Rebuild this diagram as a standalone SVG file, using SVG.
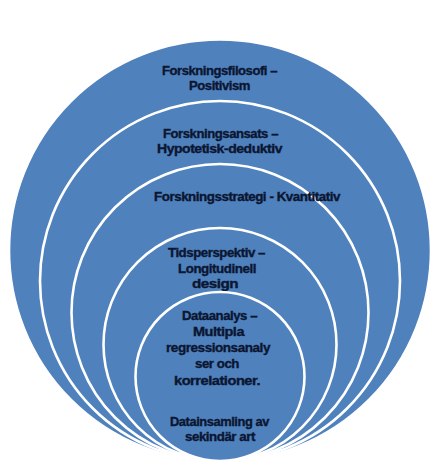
<svg xmlns="http://www.w3.org/2000/svg" width="447" height="475" viewBox="0 0 447 475">
<style>
.ring{fill:#4F81BD;stroke:#FFFFFF;stroke-width:2.6}
.lbl{font-family:"Liberation Sans",Arial,sans-serif;font-weight:bold;font-size:12px;fill:#0B1631;stroke:#0B1631;stroke-width:0.35;text-anchor:middle;letter-spacing:-0.4px}
</style>
<rect width="447" height="475" fill="#FFFFFF"/>
<g id="connectors"/>
<g id="node-forskningsfilosofi">
<circle class="ring" cx="220" cy="250.5" r="211"/>
<text class="lbl" x="219.5" y="75" textLength="115" lengthAdjust="spacingAndGlyphs">Forskningsfilosofi –</text>
<text class="lbl" x="219.5" y="90" textLength="61" lengthAdjust="spacingAndGlyphs">Positivism</text>
</g>
<g id="node-forskningsansats">
<circle class="ring" cx="220" cy="281" r="180"/>
<text class="lbl" x="220.5" y="138" textLength="115" lengthAdjust="spacingAndGlyphs">Forskningsansats –</text>
<text class="lbl" x="219.5" y="153" textLength="125" lengthAdjust="spacingAndGlyphs">Hypotetisk-deduktiv</text>
</g>
<g id="node-forskningsstrategi">
<circle class="ring" cx="220" cy="312.5" r="148.5"/>
<text class="lbl" x="247" y="201" textLength="186" lengthAdjust="spacingAndGlyphs">Forskningsstrategi - Kvantitativ</text>
</g>
<g id="node-tidsperspektiv">
<circle class="ring" cx="220" cy="344.5" r="116.5"/>
<text class="lbl" x="216.5" y="257" textLength="97" lengthAdjust="spacingAndGlyphs">Tidsperspektiv –</text>
<text class="lbl" x="217" y="272.5" textLength="78" lengthAdjust="spacingAndGlyphs">Longitudinell</text>
<text class="lbl" x="215" y="288" textLength="46" lengthAdjust="spacingAndGlyphs">design</text>
</g>
<g id="node-dataanalys">
<circle class="ring" cx="220" cy="376.5" r="84.5"/>
<text class="lbl" x="219.5" y="320" textLength="75" lengthAdjust="spacingAndGlyphs">Dataanalys –</text>
<text class="lbl" x="218.5" y="336" textLength="51" lengthAdjust="spacingAndGlyphs">Multipla</text>
<text class="lbl" x="218" y="352" textLength="104" lengthAdjust="spacingAndGlyphs">regressionsanaly</text>
<text class="lbl" x="217" y="368" textLength="44" lengthAdjust="spacingAndGlyphs">ser och</text>
<text class="lbl" x="217" y="385" textLength="86" lengthAdjust="spacingAndGlyphs">korrelationer.</text>
</g>
<g id="node-datainsamling">
<text class="lbl" x="219.5" y="426" textLength="99" lengthAdjust="spacingAndGlyphs">Datainsamling av</text>
<text class="lbl" x="220" y="441" textLength="70" lengthAdjust="spacingAndGlyphs">sekindär art</text>
</g>
</svg>
